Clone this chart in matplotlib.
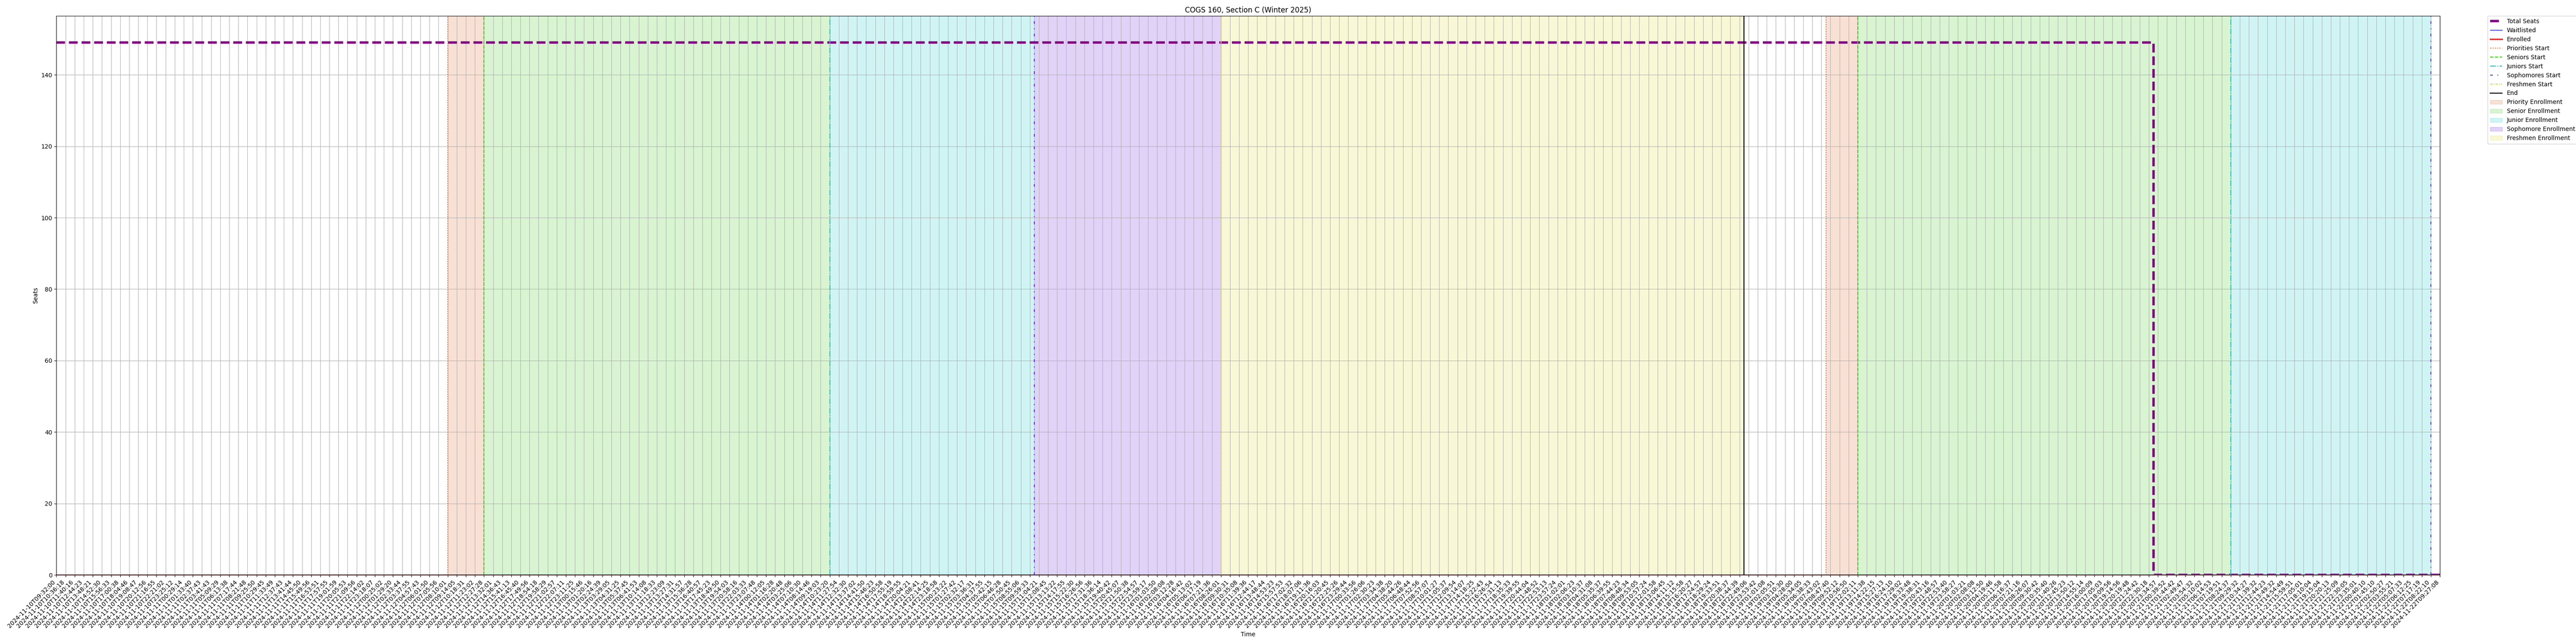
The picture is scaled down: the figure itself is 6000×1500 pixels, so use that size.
import numpy as np
import matplotlib
matplotlib.use("Agg")
import matplotlib.pyplot as plt

# ---- data ----
times = [
    "2024-11-10T09:32:00", "2024-11-10T10:36:18", "2024-11-10T11:40:16", "2024-11-10T12:44:23",
    "2024-11-10T13:48:21", "2024-11-10T14:52:30", "2024-11-10T15:56:33", "2024-11-10T17:00:38",
    "2024-11-10T18:04:46", "2024-11-10T19:08:47", "2024-11-10T20:12:56", "2024-11-10T21:16:55",
    "2024-11-10T22:21:02", "2024-11-10T23:25:12", "2024-11-11T00:29:14", "2024-11-11T01:33:40",
    "2024-11-11T02:37:43", "2024-11-11T03:41:43", "2024-11-11T05:09:29", "2024-11-11T06:13:38",
    "2024-11-11T07:17:44", "2024-11-11T08:21:48", "2024-11-11T09:25:50", "2024-11-11T10:29:45",
    "2024-11-11T11:33:49", "2024-11-11T12:37:43", "2024-11-11T13:41:44", "2024-11-11T14:45:50",
    "2024-11-11T15:49:56", "2024-11-11T16:53:51", "2024-11-11T17:57:55", "2024-11-11T19:01:59",
    "2024-11-11T20:05:53", "2024-11-11T21:09:56", "2024-11-11T22:14:02", "2024-11-11T23:18:07",
    "2024-11-12T00:25:02", "2024-11-12T01:29:20", "2024-11-12T02:33:44", "2024-11-12T03:37:55",
    "2024-11-12T04:57:43", "2024-11-12T06:01:50", "2024-11-12T07:05:56", "2024-11-12T08:10:01",
    "2024-11-12T09:14:05", "2024-11-12T10:18:31", "2024-11-12T11:23:02", "2024-11-12T12:27:28",
    "2024-11-12T13:32:01", "2024-11-12T14:36:43", "2024-11-12T15:41:13", "2024-11-12T16:45:40",
    "2024-11-12T17:49:56", "2024-11-12T18:54:18", "2024-11-12T19:58:29", "2024-11-12T21:02:57",
    "2024-11-12T22:07:11", "2024-11-12T23:11:25", "2024-11-13T00:15:46", "2024-11-13T01:20:16",
    "2024-11-13T02:24:39", "2024-11-13T03:29:05", "2024-11-13T04:31:25", "2024-11-13T05:37:45",
    "2024-11-13T06:41:53", "2024-11-13T10:14:08", "2024-11-13T11:18:33", "2024-11-13T12:23:09",
    "2024-11-13T13:27:31", "2024-11-13T14:31:57", "2024-11-13T15:36:28", "2024-11-13T16:40:57",
    "2024-11-13T17:45:23", "2024-11-13T18:49:50", "2024-11-13T19:54:03", "2024-11-13T20:58:16",
    "2024-11-13T22:03:33", "2024-11-13T23:07:48", "2024-11-14T00:12:05", "2024-11-14T01:16:28",
    "2024-11-14T02:20:48", "2024-11-14T03:25:06", "2024-11-14T07:10:30", "2024-11-14T08:14:46",
    "2024-11-14T09:19:03", "2024-11-14T10:23:20", "2024-11-14T11:27:54", "2024-11-14T12:32:30",
    "2024-11-14T13:37:02", "2024-11-14T14:41:50", "2024-11-14T15:46:23", "2024-11-14T16:50:58",
    "2024-11-14T17:55:19", "2024-11-14T18:59:55", "2024-11-14T20:04:21", "2024-11-14T21:08:41",
    "2024-11-14T22:14:25", "2024-11-14T23:18:58", "2024-11-15T00:23:22", "2024-11-15T01:27:42",
    "2024-11-15T02:32:17", "2024-11-15T03:36:31", "2024-11-15T04:37:55", "2024-11-15T05:42:15",
    "2024-11-15T06:46:28", "2024-11-15T07:50:45", "2024-11-15T08:55:06", "2024-11-15T09:59:33",
    "2024-11-15T11:04:21", "2024-11-15T12:08:45", "2024-11-15T13:13:22", "2024-11-15T14:17:55",
    "2024-11-15T15:22:30", "2024-11-15T16:26:56", "2024-11-15T17:31:36", "2024-11-15T18:36:14",
    "2024-11-15T19:40:42", "2024-11-15T20:45:07", "2024-11-15T21:50:38", "2024-11-15T22:54:57",
    "2024-11-15T23:59:17", "2024-11-16T01:03:50", "2024-11-16T02:08:08", "2024-11-16T03:12:28",
    "2024-11-16T04:16:42", "2024-11-16T05:13:02", "2024-11-16T06:17:19", "2024-11-16T07:21:36",
    "2024-11-16T08:26:01", "2024-11-16T09:30:31", "2024-11-16T10:35:08", "2024-11-16T11:39:36",
    "2024-11-16T12:44:17", "2024-11-16T13:48:44", "2024-11-16T14:53:23", "2024-11-16T15:57:53",
    "2024-11-16T17:02:32", "2024-11-16T18:07:06", "2024-11-16T19:11:36", "2024-11-16T20:16:03",
    "2024-11-16T21:20:45", "2024-11-16T22:25:26", "2024-11-16T23:29:44", "2024-11-17T00:33:56",
    "2024-11-17T01:26:06", "2024-11-17T02:30:23", "2024-11-17T03:34:38", "2024-11-17T04:38:20",
    "2024-11-17T05:44:26", "2024-11-17T06:48:44", "2024-11-17T07:52:56", "2024-11-17T08:57:07",
    "2024-11-17T10:01:27", "2024-11-17T11:05:37", "2024-11-17T12:09:54", "2024-11-17T13:14:07",
    "2024-11-17T14:18:25", "2024-11-17T15:22:43", "2024-11-17T16:26:54", "2024-11-17T17:31:13",
    "2024-11-17T18:35:33", "2024-11-17T19:39:55", "2024-11-17T20:44:04", "2024-11-17T21:48:52",
    "2024-11-17T22:53:13", "2024-11-17T23:57:24", "2024-11-18T01:02:01", "2024-11-18T02:06:23",
    "2024-11-18T03:10:37", "2024-11-18T04:31:08", "2024-11-18T05:35:37", "2024-11-18T06:39:55",
    "2024-11-18T07:44:23", "2024-11-18T08:48:34", "2024-11-18T09:53:05", "2024-11-18T10:57:24",
    "2024-11-18T12:01:58", "2024-11-18T13:06:45", "2024-11-18T14:11:12", "2024-11-18T15:15:58",
    "2024-11-18T16:20:27", "2024-11-18T17:24:57", "2024-11-18T18:29:24", "2024-11-18T19:33:51",
    "2024-11-18T20:38:37", "2024-11-18T21:44:39", "2024-11-18T22:49:06", "2024-11-18T23:53:42",
    "2024-11-19T01:01:08", "2024-11-19T02:05:51", "2024-11-19T03:10:30", "2024-11-19T04:28:00",
    "2024-11-19T05:34:05", "2024-11-19T06:38:33", "2024-11-19T07:43:02", "2024-11-19T08:47:40",
    "2024-11-19T09:52:12", "2024-11-19T10:56:50", "2024-11-19T12:02:11", "2024-11-19T13:11:38",
    "2024-11-19T14:22:15", "2024-11-19T15:27:13", "2024-11-19T16:24:10", "2024-11-19T17:29:02",
    "2024-11-19T18:33:48", "2024-11-19T19:38:31", "2024-11-19T20:43:16", "2024-11-19T21:48:57",
    "2024-11-19T22:53:40", "2024-11-19T23:58:27", "2024-11-20T01:03:21", "2024-11-20T02:08:08",
    "2024-11-20T03:12:50", "2024-11-20T04:19:46", "2024-11-20T05:11:58", "2024-11-20T06:16:37",
    "2024-11-20T07:21:16", "2024-11-20T08:26:07", "2024-11-20T09:30:42", "2024-11-20T10:35:40",
    "2024-11-20T11:40:26", "2024-11-20T12:45:23", "2024-11-20T13:50:12", "2024-11-20T14:55:14",
    "2024-11-20T16:00:09", "2024-11-20T17:05:03", "2024-11-20T18:09:56", "2024-11-20T19:14:56",
    "2024-11-20T20:19:48", "2024-11-20T21:24:42", "2024-11-20T22:30:18", "2024-11-20T23:34:57",
    "2024-11-21T00:39:52", "2024-11-21T01:44:42", "2024-11-21T02:49:47", "2024-11-21T03:54:32",
    "2024-11-21T05:10:02", "2024-11-21T06:14:53", "2024-11-21T07:19:51", "2024-11-21T08:24:37",
    "2024-11-21T09:29:32", "2024-11-21T10:34:27", "2024-11-21T11:39:32", "2024-11-21T12:44:23",
    "2024-11-21T13:49:32", "2024-11-21T14:54:49", "2024-11-21T15:59:51", "2024-11-21T17:05:01",
    "2024-11-21T18:10:04", "2024-11-21T19:15:04", "2024-11-21T20:20:13", "2024-11-21T21:25:09",
    "2024-11-21T22:30:05", "2024-11-21T23:35:01", "2024-11-22T00:40:10", "2024-11-22T01:45:10",
    "2024-11-22T02:50:27", "2024-11-22T03:55:21", "2024-11-22T05:07:33", "2024-11-22T06:12:25",
    "2024-11-22T07:17:19", "2024-11-22T08:22:10", "2024-11-22T09:27:08",
]

# seats stay at 149 until the section is dropped, then 0
total_seats = [149] * 231 + [0] * 32
waitlisted = [0] * len(times)
enrolled = [0] * len(times)

# enrollment phase boundaries (index into times), two passes
priorities_start = [43, 194.5]
seniors_start = [47, 198]
juniors_start = [85, 239]
sophomores_start = [107.5, 261]
freshmen_start = [128]
end_time = [185.5]

title = "COGS 160, Section C (Winter 2025)"

# ---- styles ----
c_priority = "#e0682c"
c_senior = "#3ecc1a"
c_junior = "#14c8cc"
c_soph = "#6a22dc"
c_fresh = "#dcdc3a"

x = np.arange(len(times))

fig, ax = plt.subplots(figsize=(60, 15), dpi=100)

ax.plot(x, total_seats, color="purple", linestyle="--", linewidth=4, drawstyle="steps-mid", label="Total Seats")
ax.plot(x, waitlisted, color="blue", linewidth=1, drawstyle="steps-mid", label="Waitlisted")
ax.plot(x, enrolled, color="red", linewidth=2, drawstyle="steps-mid", label="Enrolled")

line_specs = [
    (priorities_start, c_priority, ":", "Priorities Start"),
    (seniors_start, c_senior, "--", "Seniors Start"),
    (juniors_start, c_junior, "-.", "Juniors Start"),
    (sophomores_start, c_soph, (0, (3, 5, 1, 5)), "Sophomores Start"),
    (freshmen_start, c_fresh, (0, (3, 1, 1, 1)), "Freshmen Start"),
    (end_time, "black", "-", "End"),
]
for positions, color, ls, label in line_specs:
    for i, pos in enumerate(positions):
        ax.axvline(pos, color=color, linestyle=ls, linewidth=1.5, label=label if i == 0 else None)

# shaded phases
last = len(times) - 1
span_specs = [
    ([(priorities_start[0], seniors_start[0]), (priorities_start[1], seniors_start[1])], c_priority, "Priority Enrollment"),
    ([(seniors_start[0], juniors_start[0]), (seniors_start[1], juniors_start[1])], c_senior, "Senior Enrollment"),
    ([(juniors_start[0], sophomores_start[0]), (juniors_start[1], sophomores_start[1])], c_junior, "Junior Enrollment"),
    ([(sophomores_start[0], freshmen_start[0])], c_soph, "Sophomore Enrollment"),
    ([(freshmen_start[0], end_time[0])], c_fresh, "Freshmen Enrollment"),
]
for spans, color, label in span_specs:
    for i, (a, b) in enumerate(spans):
        ax.axvspan(a, b, color=color, alpha=0.2, label=label if i == 0 else None)

ax.set_xticks(x)
ax.set_xticklabels(times, rotation=45, ha="right")
ax.set_xlim(0, last)
ax.set_ylim(bottom=0)
ax.set_xlabel("Time")
ax.set_ylabel("Seats")
ax.set_title(title)
ax.grid(True)
ax.legend(bbox_to_anchor=(1.02, 1), loc="upper left", borderaxespad=0.0)

plt.subplots_adjust(left=0.0219, right=0.9472, top=0.9751, bottom=0.1073)
plt.savefig("out.png", dpi=100)
plt.close()
